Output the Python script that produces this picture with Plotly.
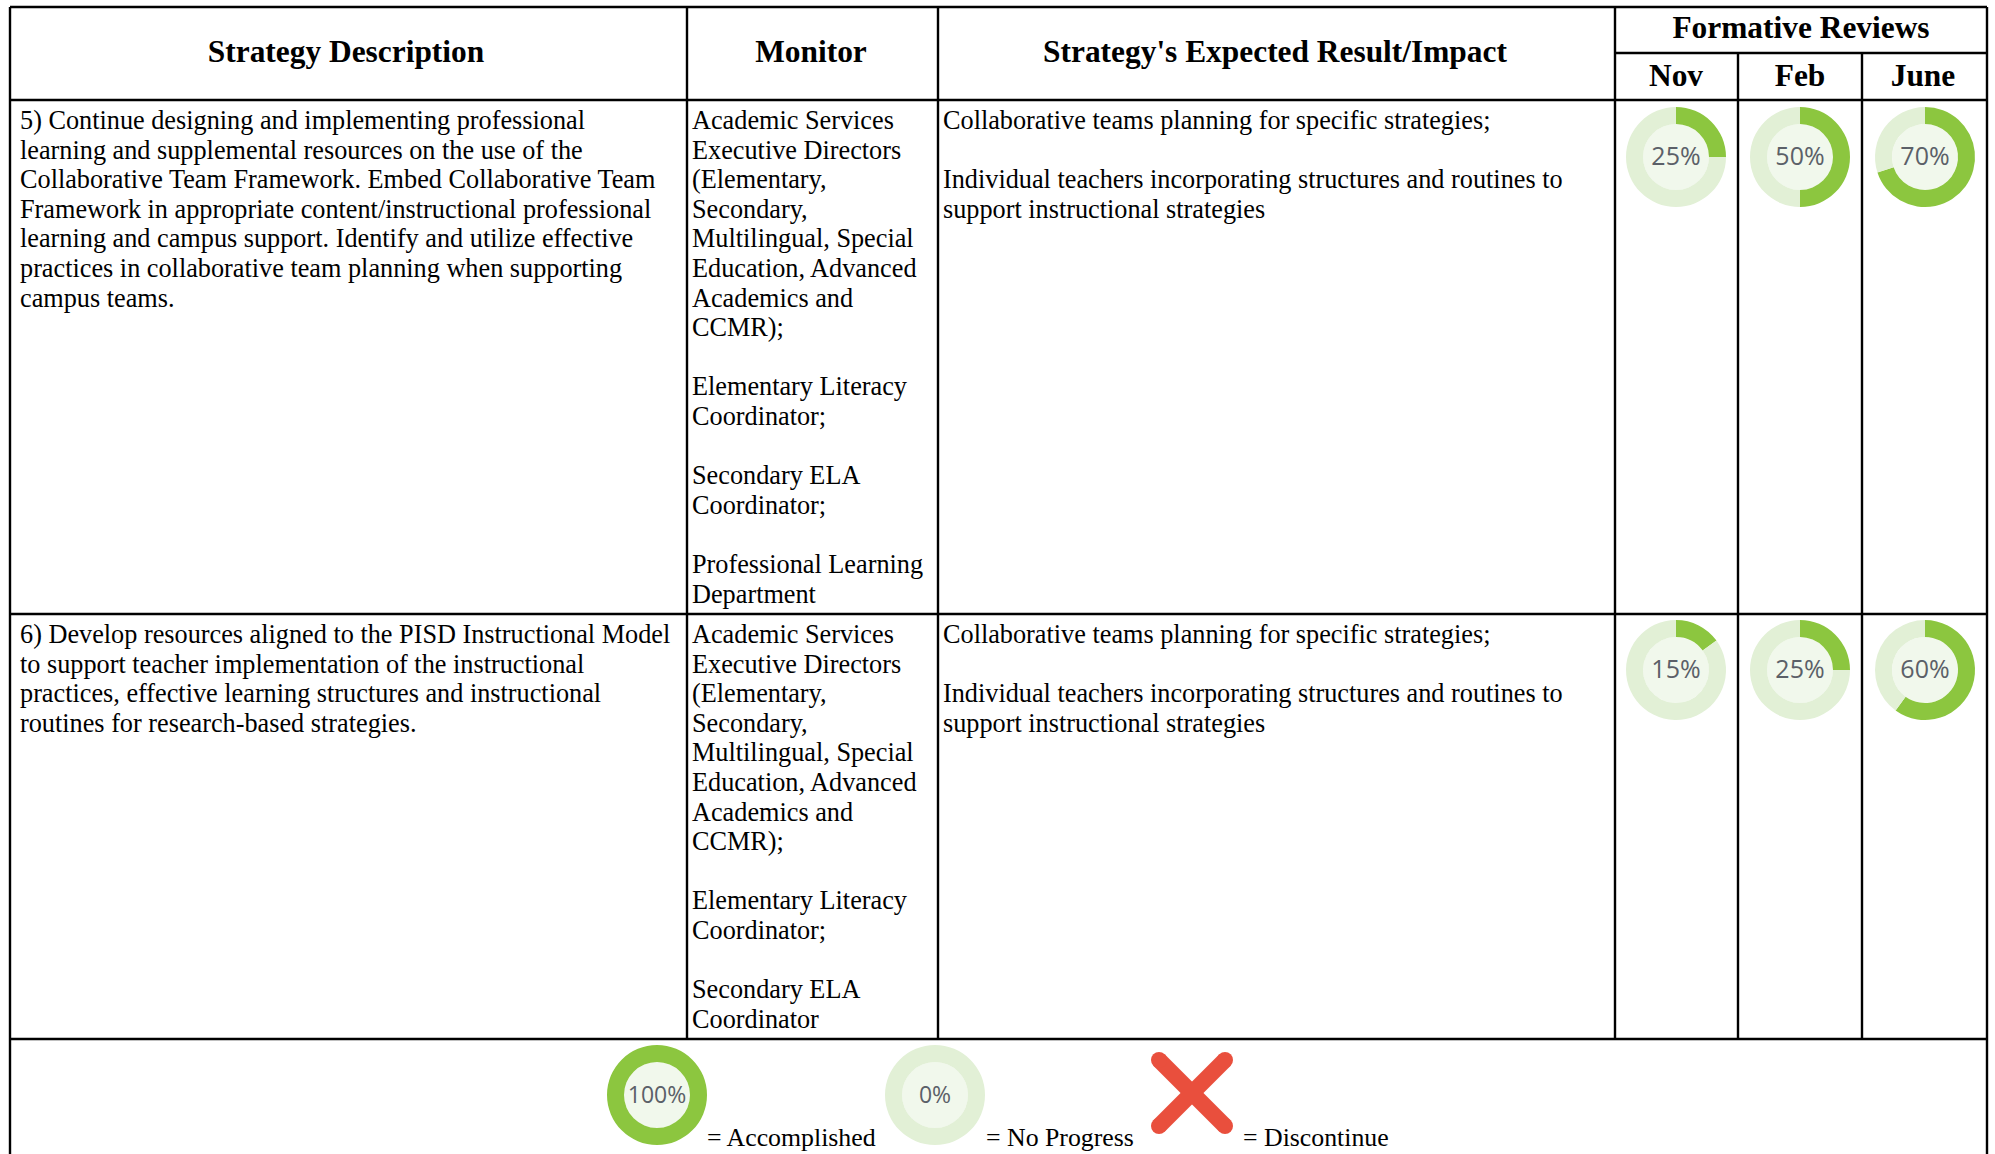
import plotly.graph_objects as go

W, H = 1995, 1154

# ---------- content ----------
headers = ["Strategy Description", "Monitor", "Strategy's Expected Result/Impact"]
review_title = "Formative Reviews"
months = ["Nov", "Feb", "June"]

row1_desc = [
    "5) Continue designing and implementing professional",
    "learning and supplemental resources on the use of the",
    "Collaborative Team Framework. Embed Collaborative Team",
    "Framework in appropriate content/instructional professional",
    "learning and campus support. Identify and utilize effective",
    "practices in collaborative team planning when supporting",
    "campus teams.",
]
row1_monitor = [
    "Academic Services", "Executive Directors", "(Elementary,", "Secondary,",
    "Multilingual, Special", "Education, Advanced", "Academics and", "CCMR);", "",
    "Elementary Literacy", "Coordinator;", "",
    "Secondary ELA", "Coordinator;", "",
    "Professional Learning", "Department",
]
row2_desc = [
    "6) Develop resources aligned to the PISD Instructional Model",
    "to support teacher implementation of the instructional",
    "practices, effective learning structures and instructional",
    "routines for research-based strategies.",
]
row2_monitor = [
    "Academic Services", "Executive Directors", "(Elementary,", "Secondary,",
    "Multilingual, Special", "Education, Advanced", "Academics and", "CCMR);", "",
    "Elementary Literacy", "Coordinator;", "",
    "Secondary ELA", "Coordinator",
]
impact_lines = [
    "Collaborative teams planning for specific strategies;", "",
    "Individual teachers incorporating structures and routines to",
    "support instructional strategies",
]
row1_reviews = [25, 50, 70]
row2_reviews = [15, 25, 60]
legend_values = [100, 0]
legend_labels = ["= Accomplished", "= No Progress", "= Discontinue"]

# ---------- style ----------
GREEN, PALE, CORE = "#8CC63F", "#E2F0D6", "#F1F8EC"
RED = "#E94F3D"
SERIF = "Liberation Serif"
BODY_SIZE = 26.25
KEY_SIZE = 25.8
LINE_H = 29.6

LEFT, RIGHT = 10, 1987
COL_X = [687, 938, 1615, 1738, 1862]
TOP, SUB, HEAD, ROW, END = 7, 53, 100, 614, 1039
REVIEW_CX = [1676, 1800, 1925]
ROW1_TEXT_Y, ROW2_TEXT_Y = 122.5, 636.5
DONUT_Y = [157, 670]
R, R_IN = 50, 33

fig = go.Figure()


def text_block(lines, x, y0, size=BODY_SIZE):
    kept = [(t, y0 + i * LINE_H) for i, t in enumerate(lines) if t]
    fig.add_trace(go.Scatter(
        x=[x] * len(kept), y=[k[1] for k in kept], text=[k[0] for k in kept],
        mode="text", textposition="middle right", cliponaxis=False,
        textfont=dict(family=SERIF, size=size, color="#000000"),
        hoverinfo="skip", showlegend=False))


def bold_text(txt, x, y, size=31.4):
    fig.add_trace(go.Scatter(
        x=[x], y=[y], text=["<b>%s</b>" % txt], mode="text",
        textposition="middle center", cliponaxis=False,
        textfont=dict(family=SERIF, size=size, color="#000000"),
        hoverinfo="skip", showlegend=False))


def donut(pct, cx, cy, label_size=25):
    fig.add_shape(type="circle", x0=cx - R_IN, x1=cx + R_IN, y0=cy - R_IN, y1=cy + R_IN,
                  fillcolor=CORE, line_width=0, layer="below")
    fig.add_trace(go.Pie(
        values=[pct, 100 - pct], marker=dict(colors=[GREEN, PALE], line=dict(width=0)),
        hole=R_IN / R, sort=False, direction="clockwise", rotation=0,
        textinfo="none", hoverinfo="skip", showlegend=False,
        domain=dict(x=[(cx - R) / W, (cx + R) / W], y=[1 - (cy + R) / H, 1 - (cy - R) / H])))
    fig.add_trace(go.Scatter(
        x=[cx], y=[cy + 2], text=["%d%%" % pct], mode="text", textposition="middle center",
        textfont=dict(family="Open Sans", size=label_size, color="#5B6068"),
        cliponaxis=False, hoverinfo="skip", showlegend=False))


# ---------- grid ----------
def rule(x0, y0, x1, y1):
    fig.add_shape(type="line", x0=x0, y0=y0, x1=x1, y1=y1,
                  line=dict(color="#000000", width=2.4), layer="below")


for y in (TOP, HEAD, ROW, END):
    rule(LEFT, y, RIGHT, y)
rule(COL_X[2], SUB, RIGHT, SUB)
for x in (LEFT, RIGHT):
    rule(x, TOP, x, H)
for x in COL_X[:3]:
    rule(x, TOP, x, END)
for x in COL_X[3:]:
    rule(x, SUB, x, END)

# ---------- headers ----------
for txt, cx in zip(headers, [346, 811, 1275]):
    bold_text(txt, cx, 54.5)
bold_text(review_title, 1801, 30)
for txt, cx in zip(months, [1676, 1800, 1923]):
    bold_text(txt, cx, 78.5)

# ---------- body ----------
text_block(row1_desc, 20, ROW1_TEXT_Y)
text_block(row1_monitor, 692, ROW1_TEXT_Y)
text_block(impact_lines, 943, ROW1_TEXT_Y)
text_block(row2_desc, 20, ROW2_TEXT_Y)
text_block(row2_monitor, 692, ROW2_TEXT_Y)
text_block(impact_lines, 943, ROW2_TEXT_Y)

for vals, cy in zip((row1_reviews, row2_reviews), DONUT_Y):
    for v, cx in zip(vals, REVIEW_CX):
        donut(v, cx, cy)

# ---------- key ----------
donut(legend_values[0], 657, 1095, label_size=23)
donut(legend_values[1], 935, 1095, label_size=23)
XC, YC, D = 1192, 1093, 33
fig.add_trace(go.Scatter(
    x=[XC - D, XC + D, None, XC - D, XC + D],
    y=[YC - D, YC + D, None, YC + D, YC - D],
    mode="lines+markers", line=dict(color=RED, width=16),
    marker=dict(color=RED, size=16), hoverinfo="skip", showlegend=False, cliponaxis=False))
for txt, x in zip(legend_labels, [707, 986, 1243]):
    text_block([txt], x, 1139.5, size=KEY_SIZE)

fig.update_layout(
    width=W, height=H, margin=dict(l=0, r=0, t=0, b=0, autoexpand=False),
    paper_bgcolor="#FFFFFF", plot_bgcolor="#FFFFFF", showlegend=False,
    xaxis=dict(range=[0, W], visible=False, fixedrange=True),
    yaxis=dict(range=[H, 0], visible=False, fixedrange=True),
)
fig.write_html("out.html", config=dict(displayModeBar=False),
               post_script="document.body.style.margin='0';")
